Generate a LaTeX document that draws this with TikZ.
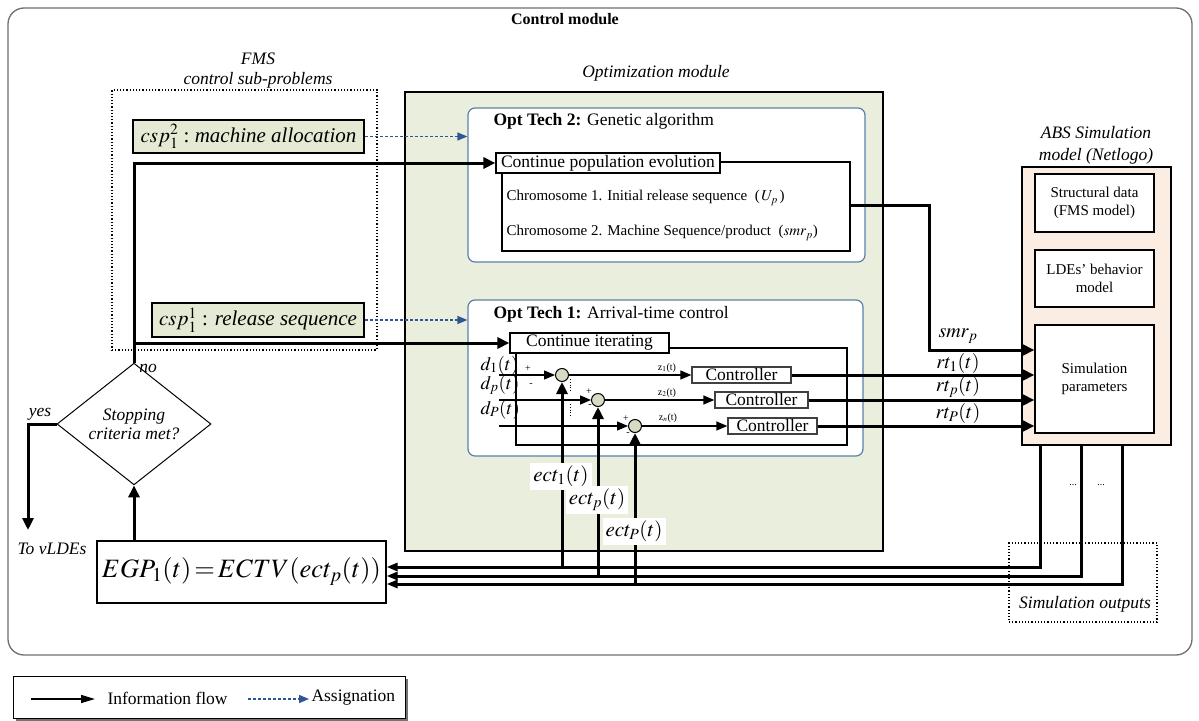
\documentclass[tikz,border=0pt]{standalone}
\usepackage{mathptmx}
\usepackage{fontspec}
\setmainfont{Liberation Serif}
\usetikzlibrary{arrows.meta, positioning, shapes.geometric, calc}
\definecolor{optgreen}{HTML}{EAEEDC}
\definecolor{cspgreen}{HTML}{E4EAD4}
\definecolor{abspeach}{HTML}{FCEDE3}
\definecolor{techblue}{HTML}{5A80AC}
\definecolor{assignblue}{HTML}{2F5597}
\definecolor{sumgrey}{HTML}{D8DAC4}
\definecolor{framegrey}{HTML}{6E6E6E}
\newcommand{\fsz}[2]{\fontsize{#1}{#2}\selectfont}
\tikzset{
  flow/.style={line width=3pt, -{Triangle[length=12pt,width=11pt]}},
  egpflow/.style={line width=3pt, -{Triangle[length=11pt,width=8pt]}},
  thinflow/.style={line width=1.4pt, -{Triangle[length=11pt,width=9pt]}},
  assign/.style={assignblue, line width=1.3pt, dash pattern=on 3pt off 2pt,
    -{Triangle[length=10pt,width=8pt]}},
  plainbox/.style={draw, fill=white, line width=1.2pt, inner sep=0pt},
  cspbox/.style={draw, fill=cspgreen, line width=2pt, inner sep=0pt, font=\fsz{21}{24}},
  techbox/.style={draw=techblue, fill=white, line width=1.2pt, rounded corners=7pt},
  summer/.style={circle, draw, fill=sumgrey, line width=1pt, minimum size=13pt, inner sep=0pt},
  ctrlbox/.style={draw=black!75, fill=white, line width=1.3pt, inner sep=0pt, font=\fsz{17.5}{20}},
  lbl/.style={font=\fsz{17.5}{20}\itshape},
  sig/.style={font=\fsz{19}{22}},
  outsig/.style={font=\fsz{20}{22}},
  tiny/.style={font=\fsz{10}{12}},
}
\begin{document}
\begin{tikzpicture}[x=1pt,y=-1pt]
\useasboundingbox (0,0) rectangle (1199,720);
% control module
\node[draw=framegrey, line width=1.3pt, rounded corners=16pt, minimum width=1184pt, minimum height=647pt] (ctrl) at (600,331.5) {};
\node[font=\fsz{16}{18}\bfseries] (ctrltitle) at (565,19) {Control module};

% FMS sub-problems
\node[draw, dotted, line width=1.2pt, minimum width=265pt, minimum height=260pt] (fms) at (244.5,220) {};
\node[lbl, align=center] (fmstitle) at (258,71) {FMS\\control sub-problems};
\node[cspbox, minimum width=231pt, minimum height=33pt] (csp2) at (248.5,136.5) {$csp_1^2$ :\ \textit{machine allocation}};
\node[cspbox, minimum width=212pt, minimum height=34pt] (csp1) at (258,320) {$csp_1^1$ : \textit{release sequence}};

% optimization module
\node[draw, fill=optgreen, line width=1.8pt, minimum width=478pt, minimum height=459pt] (opt) at (644,321.5) {};
\node[lbl] (opttitle) at (656,73) {Optimization module};

\node[techbox, minimum width=397pt, minimum height=154pt] (tech2) at (666.5,185) {};
\node[font=\fsz{17.5}{20}, anchor=west] (tech2title) at (490,121) {\textbf{Opt Tech 2:} Genetic algorithm};
\node[draw, line width=1.8pt, minimum width=348pt, minimum height=89pt] (pop) at (676,206.5) {};
\node[plainbox, minimum width=224pt, minimum height=20pt, font=\fsz{17.5}{20}] (evolve) at (608,163) {Continue population evolution};
\node[font=\fsz{15}{17}, anchor=west] (chrom1) at (503,198) {Chromosome 1. Initial release sequence\ \ ($\,U_p\,$)};
\node[font=\fsz{15}{17}, anchor=west] (chrom2) at (503,233) {Chromosome 2. Machine Sequence/product\ \ ($smr_p$)};

\node[techbox, minimum width=395pt, minimum height=156pt] (tech1) at (665.5,378) {};
\node[font=\fsz{17.5}{20}, anchor=west] (tech1title) at (490,314) {\textbf{Opt Tech 1:} Arrival-time control};
\node[draw, line width=1.8pt, minimum width=331pt, minimum height=97pt] (loop) at (681.5,396.5) {};
\node[plainbox, minimum width=159pt, minimum height=20pt, font=\fsz{17.5}{20}] (iterate) at (589.5,343) {Continue iterating};

\node[summer] (sum1) at (562,375) {};
\node[summer] (sum2) at (598,400) {};
\node[summer] (sum3) at (635,426) {};
\node[ctrlbox, minimum width=99pt, minimum height=16pt] (ctl1) at (741.5,375) {Controller};
\node[ctrlbox, minimum width=93pt, minimum height=16pt] (ctl2) at (761.5,400) {Controller};
\node[ctrlbox, minimum width=89pt, minimum height=16pt] (ctl3) at (772.5,426) {Controller};

\coordinate (d1) at (499,375);
\coordinate (d2) at (499,400);
\coordinate (d3) at (499,426);
\node[sig, anchor=base west] (d1lbl) at (477,370) {$d_1(t)$};
\node[sig, anchor=base west] (d2lbl) at (477,389) {$d_p(t)$};
\node[sig, anchor=base west] (d3lbl) at (477,414) {$d_P(t)$};
\draw[thinflow] (d1) -- (sum1);
\draw[thinflow] (d2) -- (sum2);
\draw[thinflow] (d3) -- (sum3);
\draw[thinflow] (sum1) -- (ctl1);
\draw[thinflow] (sum2) -- (ctl2);
\draw[thinflow] (sum3) -- (ctl3);
\node[tiny] (z1) at (667,368) {z$_1$(t)};
\node[tiny] (z2) at (667,393) {z$_2$(t)};
\node[tiny] (z3) at (668,418) {z$_n$(t)};
\node[tiny] (plus1) at (528,369) {+};
\node[tiny] (minus1) at (531,385) {-};
\node[tiny] (plus2) at (589,392) {+};
\node[tiny] (minus2) at (590,406) {-};
\node[tiny] (plus3) at (626,419) {+};
\node[tiny] (minus3) at (628,434) {-};
\draw[dotted, line width=0.8pt] (570,379) -- (570,391);
\draw[dotted, line width=0.8pt] (570,404) -- (570,418);

% ABS simulation model
\node[lbl, align=center, font=\fsz{17.5}{22}\itshape] (abstitle) at (1096,145) {ABS Simulation\\model (Netlogo)};
\node[draw, fill=abspeach, line width=1.8pt, minimum width=149pt, minimum height=278pt] (abs) at (1096.5,306) {};
\node[plainbox, minimum width=119pt, minimum height=58pt, align=center, font=\fsz{15}{18}] (struct) at (1094.5,203) {Structural data\\(FMS model)};
\node[plainbox, minimum width=119pt, minimum height=57pt, align=center, font=\fsz{15}{18}] (ldes) at (1094.5,278.5) {LDEs’ behavior\\model};
\node[plainbox, minimum width=119pt, minimum height=108pt, align=center, font=\fsz{15}{18}] (simpar) at (1094.5,379) {Simulation\\parameters};

\node[draw, dotted, line width=1.2pt, minimum width=148pt, minimum height=79pt] (simout) at (1083,582.5) {};
\node[lbl] (simoutlbl) at (1085,604) {Simulation outputs};
\node[font=\fsz{10}{10}] (dots1) at (1073,485) {...};
\node[font=\fsz{10}{10}] (dots2) at (1101,485) {...};

% stopping test
\node[draw, diamond, line width=1pt, minimum width=154pt, minimum height=86pt, inner sep=0pt, align=center, font=\fsz{17.5}{19}\itshape] (stop) at (134,424) {Stopping\\criteria met?};
\node[draw, line width=1.2pt, fill=white, minimum width=289pt, minimum height=62pt, inner sep=0pt, font=\fsz{26.5}{28}] (egp) at (241.5,572) {$EGP_1(t)\,{=}\,ECTV(ect_p(t))$};
\node[lbl] (nolbl) at (148,368) {no};
\node[lbl] (yeslbl) at (40,414) {yes};
\node[lbl] (tovldes) at (52,549) {To vLDEs};
\coordinate (vldes) at (28,530);
\coordinate (fbmid) at (134,343);

% information flow
\draw[flow] (egp.north -| stop.south) -- (stop.south);
\draw[flow] (stop.west) -| (vldes);
\draw[flow] (stop.north) |- (evolve.west);
\draw[flow] (fbmid) -- (iterate.west);
\draw[assign] (csp2.east) -- (csp2.east -| tech2.west);
\draw[assign] (csp1.east) -- (csp1.east -| tech1.west);
\draw[flow] (pop.east |- 0,205) -| (929,350) -- (simpar.west |- 0,350);
\draw[flow] (ctl1) -- (ctl1 -| simpar.west);
\draw[flow] (ctl2) -- (ctl2 -| simpar.west);
\draw[flow] (ctl3) -- (ctl3 -| simpar.west);
\node[outsig] (smrlbl) at (958,336) {$smr_p$};
\node[outsig] (rt1lbl) at (958,363) {$rt_1(t)$};
\node[outsig] (rt2lbl) at (958,387) {$rt_p(t)$};
\node[outsig] (rt3lbl) at (958,413) {$rt_P(t)$};

\draw[egpflow] (abs.south -| 1040,0) |- (egp.east |- 0,567);
\draw[egpflow] (abs.south -| 1081,0) |- (egp.east |- 0,576);
\draw[egpflow] (abs.south -| 1122,0) |- (egp.east |- 0,584);
\coordinate (e1) at (562,567);
\coordinate (e2) at (598,576);
\coordinate (e3) at (635,584);
\draw[flow] (e1) -- (sum1);
\draw[flow] (e2) -- (sum2);
\draw[flow] (e3) -- (sum3);
\node[fill=white, inner sep=3pt, font=\fsz{21}{24}] (ect1) at (561,476) {$ect_1(t)$};
\node[fill=white, inner sep=3pt, font=\fsz{21}{24}] (ect2) at (597,500) {$ect_p(t)$};
\node[fill=white, inner sep=3pt, font=\fsz{21}{24}] (ect3) at (634,531) {$ect_P(t)$};

% legend
\node[fill=black!55, minimum width=392pt, minimum height=42pt] (legshadow) at (212,700) {};
\node[draw, fill=white, line width=1pt, minimum width=392pt, minimum height=42pt] (legend) at (209,697) {};
\coordinate (lf1) at (31,699);
\coordinate (lf2) at (95,699);
\draw[line width=1.5pt, -{Triangle[length=14pt,width=8pt]}] (lf1) -- (lf2);
\node[font=\fsz{17.5}{20}, anchor=west] (lflbl) at (104,698) {Information flow};
\coordinate (la1) at (248,699);
\coordinate (la2) at (309,699);
\draw[assign] (la1) -- (la2);
\node[font=\fsz{17.5}{20}, anchor=west] (lalbl) at (308,698) {Assignation};
\end{tikzpicture}
\end{document}
